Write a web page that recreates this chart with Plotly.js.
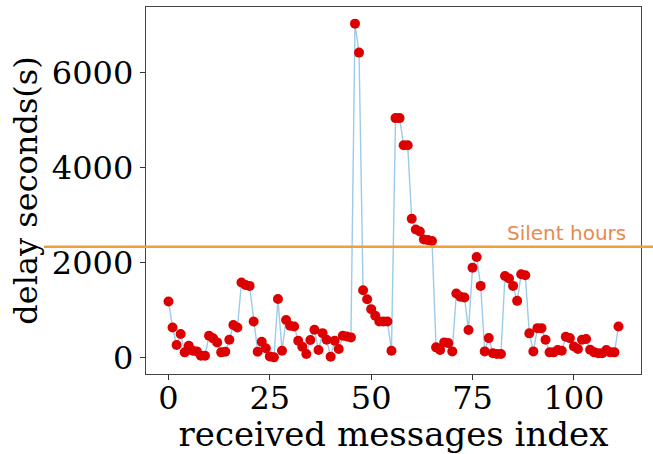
<!DOCTYPE html>
<html>
<head>
<meta charset="utf-8">
<script src="https://cdn.plot.ly/plotly-3.0.1.min.js"></script>
<style>html,body{margin:0;padding:0;background:#fff;}#chart{width:653px;height:454px;}</style>
</head>
<body>
<div id="chart"></div>
<script>
// delay (seconds) for each received message, index 0..111
const delays = [
  1175, 630, 260, 490, 105, 245, 140, 125, 35, 35,
  455, 400, 315, 105, 120, 370, 680, 630, 1575, 1525,
  1505, 755, 120, 330, 190, 20, 0, 1230, 140, 785,
  665, 650, 350, 225, 70, 365, 580, 155, 510, 370,
  15, 350, 175, 455, 440, 420, 7030, 6420, 1415, 1225,
  1015, 875, 755, 755, 755, 140, 5040, 5040, 4470, 4470,
  2920, 2695, 2650, 2485, 2470, 2450, 210, 155, 315, 300,
  125, 1345, 1275, 1260, 575, 1890, 2115, 1505, 125, 405,
  85, 70, 70, 1715, 1660, 1505, 1190, 1750, 1730, 505,
  125, 615, 615, 370, 105, 105, 155, 140, 435, 405,
  230, 175, 370, 385, 160, 105, 85, 85, 155, 105,
  105, 650
];
const indices = delays.map((_, i) => i);
const xTicks = [0, 25, 50, 75, 100];
const yTicks = [0, 2000, 4000, 6000];
const silentHours = 2330;
const silentLabel = "Silent hours";
const xTitle = "received messages index";
const yTitle = "delay seconds(s)";

const xMin = -5.55, xMax = 116.55;
const yMin = -351, yMax = 7381;

const trace = {
  x: indices,
  y: delays,
  type: "scatter",
  mode: "lines+markers",
  line: {color: "#9ccbea", width: 1.4},
  marker: {color: "#dd0000", size: 10},
  hoverinfo: "x+y",
  showlegend: false
};

const serif = "DejaVu Serif, serif";
const layout = {
  width: 653, height: 454,
  margin: {l: 146, r: 12, t: 7, b: 80},
  paper_bgcolor: "#fff",
  plot_bgcolor: "#fff",
  showlegend: false,
  xaxis: {
    range: [xMin, xMax],
    tickvals: xTicks,
    ticktext: xTicks.map(String),
    ticks: "outside", ticklen: 5, tickwidth: 1, tickcolor: "#333",
    ticklabelstandoff: -10,
    showline: true, mirror: true, linecolor: "#444", linewidth: 1.3,
    showgrid: false, zeroline: false,
    tickfont: {family: serif, size: 32, color: "#000"},
    title: {text: xTitle, font: {family: serif, size: 34, color: "#000"}, standoff: 2}
  },
  yaxis: {
    range: [yMin, yMax],
    tickvals: yTicks,
    ticktext: yTicks.map(String),
    ticks: "outside", ticklen: 5, tickwidth: 1, tickcolor: "#333",
    showline: true, mirror: true, linecolor: "#444", linewidth: 1.3,
    showgrid: false, zeroline: false,
    tickfont: {family: serif, size: 32, color: "#000"},
    title: {text: yTitle, font: {family: serif, size: 32, color: "#000"}, standoff: 4}
  },
  shapes: [{
    type: "line", layer: "above",
    xref: "paper", yref: "paper",
    x0: (44 - 146) / 495, x1: (653 - 146) / 495,
    y0: (silentHours - yMin) / (yMax - yMin),
    y1: (silentHours - yMin) / (yMax - yMin),
    line: {color: "#f0a035", width: 2.5}
  }],
  annotations: [{
    x: 113.4, y: silentHours, xref: "x", yref: "y",
    xanchor: "right", yanchor: "bottom", yshift: 0,
    text: silentLabel, showarrow: false,
    font: {family: "DejaVu Sans, sans-serif", size: 20, color: "#e8894e"}
  }]
};

Plotly.newPlot("chart", [trace], layout, {displayModeBar: false, staticPlot: true});
</script>
</body>
</html>
